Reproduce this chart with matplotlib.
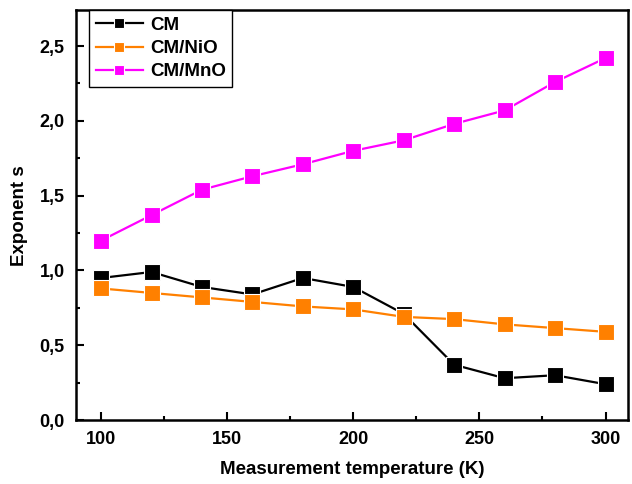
import matplotlib.pyplot as plt
from matplotlib.ticker import MultipleLocator, FuncFormatter

plt.rcParams['font.family'] = ['Liberation Sans', 'DejaVu Sans']
plt.rcParams['font.weight'] = 'bold'

temperatura = [100, 120, 140, 160, 180, 200, 220, 240, 260, 280, 300]
s_cm = [0.95, 0.99, 0.89, 0.84, 0.95, 0.89, 0.71, 0.37, 0.28, 0.30, 0.24]
s_cm_nio = [0.88, 0.85, 0.82, 0.79, 0.76, 0.74, 0.69, 0.675, 0.64, 0.615, 0.59]
s_cm_mno = [1.20, 1.37, 1.54, 1.63, 1.71, 1.80, 1.87, 1.98, 2.07, 2.26, 2.42]

series = [
    ('CM', s_cm, 'black'),
    ('CM/NiO', s_cm_nio, '#ff8000'),
    ('CM/MnO', s_cm_mno, '#ff00ff'),
]

fig = plt.figure(figsize=(6.32, 4.84), dpi=100)
ax = fig.add_axes([0.120, 0.132, 0.874, 0.847])

for nome, valores, cor in series:
    ax.plot(temperatura, valores, '-s', color=cor, label=nome, lw=1.6,
            ms=11, mfc=cor, mec='white', mew=0.8)

ax.set_xlim(90, 309)
ax.set_ylim(0, 2.74)
ax.xaxis.set_major_locator(MultipleLocator(50))
ax.xaxis.set_minor_locator(MultipleLocator(25))
ax.yaxis.set_major_locator(MultipleLocator(0.5))
ax.yaxis.set_minor_locator(MultipleLocator(0.25))
ax.yaxis.set_major_formatter(FuncFormatter(lambda v, p: f'{v:.1f}'.replace('.', ',')))

ax.tick_params(which='both', direction='in', width=1.5, labelsize=13, pad=8)
ax.tick_params(which='major', length=6)
ax.tick_params(which='minor', length=3)
for sp in ax.spines.values():
    sp.set_linewidth(1.8)

ax.set_xlabel('Measurement temperature (K)', fontsize=13.5, fontweight='bold', labelpad=9)
ax.set_ylabel('Exponent s', fontsize=13.5, fontweight='bold', labelpad=8)

leg = ax.legend(loc='upper left', bbox_to_anchor=(0.024, 1.0), fontsize=13.5,
                fancybox=False, edgecolor='black', framealpha=1,
                handlelength=2.5, borderaxespad=0, borderpad=0.35,
                labelspacing=0.33, handletextpad=0.4, markerscale=0.6)
leg.get_frame().set_linewidth(1.0)
for t in leg.get_texts():
    t.set_fontweight('bold')

plt.savefig('out.png', dpi=100)
